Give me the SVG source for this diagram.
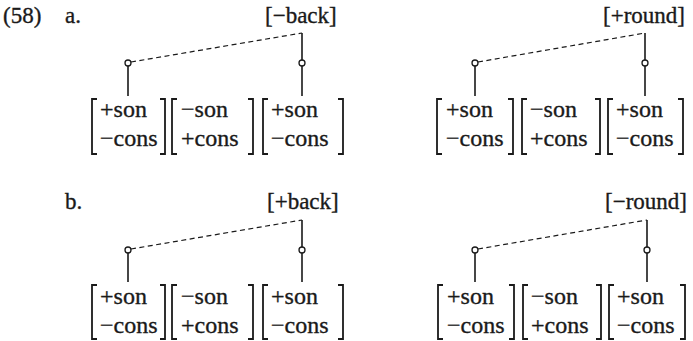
<svg xmlns="http://www.w3.org/2000/svg" width="693" height="341" viewBox="0 0 693 341">
<style>
.t,.f{font-family:'Liberation Serif','DejaVu Serif',serif;fill:#1a1a1a;stroke:#1a1a1a;stroke-width:0.35}
.t{font-size:23px}
.f{font-size:24px}
.br{fill:none;stroke:#1a1a1a;stroke-width:1.8}
.ln{stroke:#1a1a1a;stroke-width:1.6;fill:none}
.ds{stroke:#1a1a1a;stroke-width:1.2;stroke-dasharray:5 3.5;fill:none}
.ci{fill:#fff;stroke:#1a1a1a;stroke-width:1.3}
</style>
<g id="labels">
<text class="t" x="3" y="23">(58)</text>
<text class="t" x="65" y="23">a.</text>
<text class="t" x="65" y="209">b.</text>
</g>

<g id="connectors">
<path class="ds" d="M131,62 L302,33"/>
<path class="ln" d="M302,33 V60 M302,66 V96 M128,66 V96"/>
<path class="ds" d="M478,62 L645,33"/>
<path class="ln" d="M645,33 V60 M645,66 V96 M475,66 V96"/>
<path class="ds" d="M131,249 L302,220"/>
<path class="ln" d="M302,220 V247 M302,253 V282 M128,253 V282"/>
<path class="ds" d="M478,249 L647,220"/>
<path class="ln" d="M647,220 V247 M647,253 V282 M475,253 V282"/>
</g>

<g id="nodeA1">
<text class="t" x="265" y="23">[−back]</text>
<circle class="ci" cx="128" cy="63" r="3"/>
<circle class="ci" cx="302" cy="63" r="3"/>
<path class="br" d="M97,99 H92 V154 H97 M160,99 H165 V154 H160"/>
<text class="f" x="100" y="117">+son</text><text class="f" x="100" y="146">−cons</text>
<path class="br" d="M177,99 H172 V154 H177 M248,99 H253 V154 H248"/>
<text class="f" x="181" y="117">−son</text><text class="f" x="181" y="146">+cons</text>
<path class="br" d="M268,99 H263 V154 H268 M338,99 H343 V154 H338"/>
<text class="f" x="271" y="117">+son</text><text class="f" x="271" y="146">−cons</text>
</g>

<g id="nodeA2">
<text class="t" x="603" y="23">[+round]</text>
<circle class="ci" cx="475" cy="63" r="3"/>
<circle class="ci" cx="645" cy="63" r="3"/>
<path class="br" d="M442,99 H437 V154 H442 M508,99 H513 V154 H508"/>
<text class="f" x="446" y="117">+son</text><text class="f" x="446" y="146">−cons</text>
<path class="br" d="M527,99 H522 V154 H527 M595,99 H600 V154 H595"/>
<text class="f" x="530" y="117">−son</text><text class="f" x="530" y="146">+cons</text>
<path class="br" d="M613,99 H608 V154 H613 M678,99 H683 V154 H678"/>
<text class="f" x="616" y="117">+son</text><text class="f" x="616" y="146">−cons</text>
</g>

<g id="nodeB1">
<text class="t" x="267" y="209">[+back]</text>
<circle class="ci" cx="128" cy="250" r="3"/>
<circle class="ci" cx="302" cy="250" r="3"/>
<path class="br" d="M97,285 H92 V339 H97 M160,285 H165 V339 H160"/>
<text class="f" x="100" y="304">+son</text><text class="f" x="100" y="333">−cons</text>
<path class="br" d="M177,285 H172 V339 H177 M248,285 H253 V339 H248"/>
<text class="f" x="181" y="304">−son</text><text class="f" x="181" y="333">+cons</text>
<path class="br" d="M268,285 H263 V339 H268 M338,285 H343 V339 H338"/>
<text class="f" x="271" y="304">+son</text><text class="f" x="271" y="333">−cons</text>
</g>

<g id="nodeB2">
<text class="t" x="605" y="209">[−round]</text>
<circle class="ci" cx="475" cy="250" r="3"/>
<circle class="ci" cx="647" cy="250" r="3"/>
<path class="br" d="M443,285 H438 V339 H443 M509,285 H514 V339 H509"/>
<text class="f" x="447" y="304">+son</text><text class="f" x="447" y="333">−cons</text>
<path class="br" d="M528,285 H523 V339 H528 M596,285 H601 V339 H596"/>
<text class="f" x="531" y="304">−son</text><text class="f" x="531" y="333">+cons</text>
<path class="br" d="M614,285 H609 V339 H614 M680,285 H685 V339 H680"/>
<text class="f" x="617" y="304">+son</text><text class="f" x="617" y="333">−cons</text>
</g>
</svg>
